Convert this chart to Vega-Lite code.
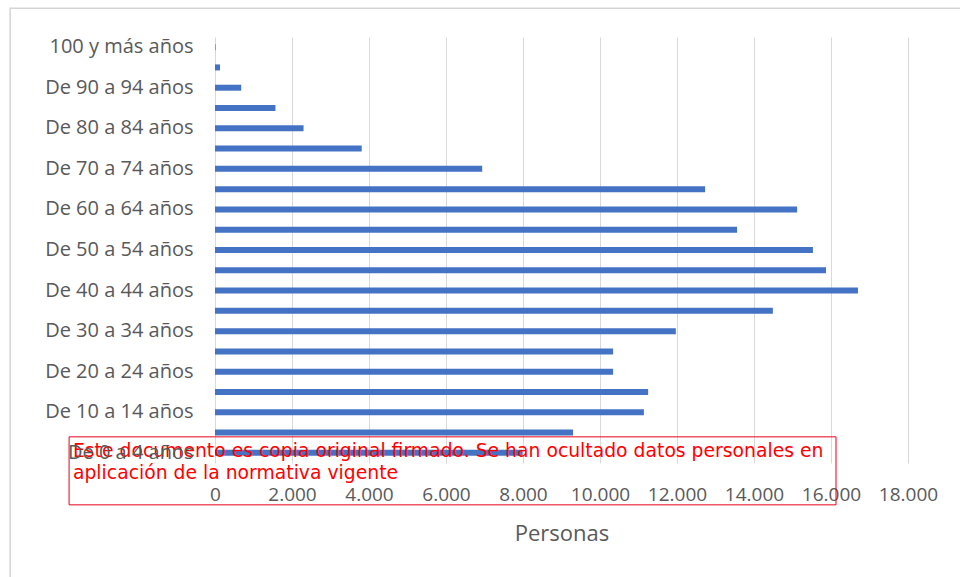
{
  "$schema": "https://vega.github.io/schema/vega-lite/v6.json",
  "width": 693,
  "height": 426,
  "autosize": {"type": "none"},
  "padding": {"left": 215, "top": 37, "right": 52, "bottom": 114},
  "background": "white",
  "config": {"view": {"stroke": null}, "font": "Open Sans"},
  "datasets": {
    "pop": [
      {"edad": "100 y más años", "personas": 15},
      {"edad": "De 95 a 99 años", "personas": 130},
      {"edad": "De 90 a 94 años", "personas": 680},
      {"edad": "De 85 a 89 años", "personas": 1570},
      {"edad": "De 80 a 84 años", "personas": 2300},
      {"edad": "De 75 a 79 años", "personas": 3810},
      {"edad": "De 70 a 74 años", "personas": 6940},
      {"edad": "De 65 a 69 años", "personas": 12730},
      {"edad": "De 60 a 64 años", "personas": 15120},
      {"edad": "De 55 a 59 años", "personas": 13560},
      {"edad": "De 50 a 54 años", "personas": 15530},
      {"edad": "De 45 a 49 años", "personas": 15870},
      {"edad": "De 40 a 44 años", "personas": 16700},
      {"edad": "De 35 a 39 años", "personas": 14490},
      {"edad": "De 30 a 34 años", "personas": 11970},
      {"edad": "De 25 a 29 años", "personas": 10340},
      {"edad": "De 20 a 24 años", "personas": 10340},
      {"edad": "De 15 a 19 años", "personas": 11250},
      {"edad": "De 10 a 14 años", "personas": 11140},
      {"edad": "De 5 a 9 años", "personas": 9300},
      {"edad": "De 0 a 4 años", "personas": 7990}
    ],
    "nota": [
      {"texto": "Este documento es copia original firmado. Se han ocultado datos personales en\naplicación de la normativa vigente", "x0": -3690, "caja0": -3790, "caja1": 16130, "fila": "De 0 a 4 años"}
    ],
    "marco": [
      {"m0": -5320, "m1": 21000, "fila": "100 y más años"}
    ]
  },
  "layer": [
    {
      "data": {"name": "marco"},
      "mark": {"type": "rect", "fill": null, "stroke": "#d4d4d4", "strokeWidth": 1.5, "height": 600, "yOffset": 261, "clip": false},
      "encoding": {
        "x": {"field": "m0", "type": "quantitative"},
        "x2": {"field": "m1"},
        "y": {"field": "fila", "type": "nominal", "sort": null}
      }
    },
    {
      "data": {"name": "pop"},
      "mark": {"type": "bar", "color": "#4472C4", "height": 6},
      "encoding": {
        "y": {
          "field": "edad",
          "type": "nominal",
          "sort": null,
          "scale": {"paddingInner": 0, "paddingOuter": 0},
          "axis": {
            "title": null,
            "domain": false,
            "ticks": false,
            "grid": false,
            "labelFontSize": 20,
            "labelColor": "#595959",
            "labelPadding": 22,
            "labelOverlap": false,
            "values": ["100 y más años", "De 90 a 94 años", "De 80 a 84 años", "De 70 a 74 años", "De 60 a 64 años", "De 50 a 54 años", "De 40 a 44 años", "De 30 a 34 años", "De 20 a 24 años", "De 10 a 14 años", "De 0 a 4 años"]
          }
        },
        "x": {
          "field": "personas",
          "type": "quantitative",
          "scale": {"domain": [0, 18000], "nice": false, "zero": true},
          "axis": {
            "title": "Personas",
            "titleFontSize": 22,
            "titleFontWeight": "normal",
            "titleColor": "#595959",
            "titlePadding": 19,
            "values": [0, 2000, 4000, 6000, 8000, 10000, 12000, 14000, 16000, 18000],
            "labelExpr": "replace(format(datum.value, ','), ',', '.')",
            "labelFontSize": 19,
            "labelColor": "#595959",
            "labelPadding": 22,
            "labelOverlap": false,
            "labelFlush": false,
            "domain": false,
            "ticks": false,
            "grid": true,
            "gridColor": "#d9d9d9",
            "gridWidth": 1
          }
        }
      }
    },
    {
      "data": {"name": "nota"},
      "mark": {"type": "rect", "fill": null, "stroke": "#e8001c", "strokeWidth": 1, "height": 68, "yOffset": 18, "clip": false},
      "encoding": {
        "x": {"field": "caja0", "type": "quantitative"},
        "x2": {"field": "caja1"},
        "y": {"field": "fila", "type": "nominal", "sort": null}
      }
    },
    {
      "data": {"name": "nota"},
      "mark": {"type": "text", "align": "left", "baseline": "middle", "lineBreak": "\n", "lineHeight": 22, "font": "DejaVu Sans", "fontSize": 18.8, "color": "#ff0000", "dy": -2, "clip": false},
      "encoding": {
        "x": {"field": "x0", "type": "quantitative"},
        "y": {"field": "fila", "type": "nominal", "sort": null},
        "text": {"field": "texto"}
      }
    }
  ]
}
